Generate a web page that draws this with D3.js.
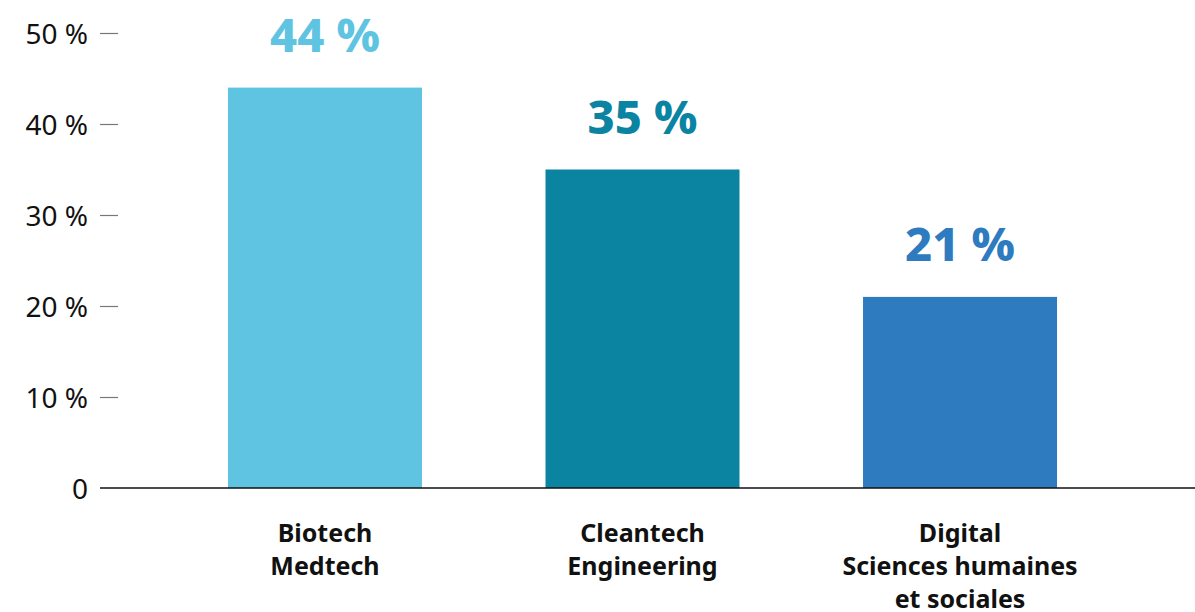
<!DOCTYPE html>
<html>
<head>
<meta charset="utf-8">
<script src="https://cdn.jsdelivr.net/npm/d3@7"></script>
<style>
  body { margin: 0; background: #fff; }
  svg { display: block; font-family: "Noto Sans", Lato, sans-serif; }
</style>
</head>
<body>
<svg id="chart" width="1195" height="612"></svg>
<script>
const categories = [["Biotech", "Medtech"], ["Cleantech", "Engineering"], ["Digital", "Sciences humaines", "et sociales"]]
const values = [44, 35, 21]
const colors = ["#5FC3E2", "#0B84A2", "#2F7BBF"]
const yTicks = [0, 10, 20, 30, 40, 50]

const svg = d3.select("#chart")
const w = 1195, h = 612

const x = d3.scaleBand().domain(d3.range(values.length)).range([100, 1185])
  .paddingInner(0.389).paddingOuter(0.403)
const y = d3.scaleLinear().domain([0, 50]).range([488, 33])

// y axis: labels with short gray ticks, no domain line
const yAxis = svg.append("g")
  .attr("transform", "translate(118,0)")
  .call(d3.axisLeft(y).tickValues(yTicks).tickSize(18).tickPadding(30)
    .tickFormat(d => d ? d + " %" : "0"))
  .attr("font-family", null)
yAxis.select(".domain").remove()
yAxis.selectAll(".tick line").attr("stroke", "#777").attr("stroke-width", 1.2)
yAxis.selectAll(".tick text").attr("font-size", 28).attr("fill", "#111")
  .attr("x", -30).attr("dy", "0.36em")
yAxis.selectAll(".tick").filter(d => d === 0).select("line").remove()

// bars
svg.selectAll("rect.bar").data(values).join("rect").attr("class", "bar")
  .attr("x", (d, i) => x(i))
  .attr("y", d => y(d))
  .attr("width", x.bandwidth())
  .attr("height", d => y(0) - y(d))
  .attr("fill", (d, i) => colors[i])

// baseline
svg.append("line")
  .attr("x1", 100).attr("x2", w)
  .attr("y1", y(0)).attr("y2", y(0))
  .attr("stroke", "#111").attr("stroke-width", 1.5)

// value labels
svg.selectAll("text.val").data(values).join("text").attr("class", "val")
  .attr("x", (d, i) => x(i) + x.bandwidth() / 2)
  .attr("y", d => y(d) - 36)
  .attr("text-anchor", "middle")
  .attr("font-size", 47).attr("font-weight", 800)
  .attr("fill", (d, i) => colors[i])
  .text(d => d + " %")

// category labels
svg.selectAll("text.cat").data(categories).join("text").attr("class", "cat")
  .attr("text-anchor", "middle")
  .attr("font-size", 25).attr("font-weight", 700).attr("fill", "#111")
  .each(function (lines, i) {
    d3.select(this).selectAll("tspan").data(lines).join("tspan")
      .attr("x", x(i) + x.bandwidth() / 2)
      .attr("y", (d, j) => 542 + j * 33)
      .text(d => d)
  })
</script>
</body>
</html>
